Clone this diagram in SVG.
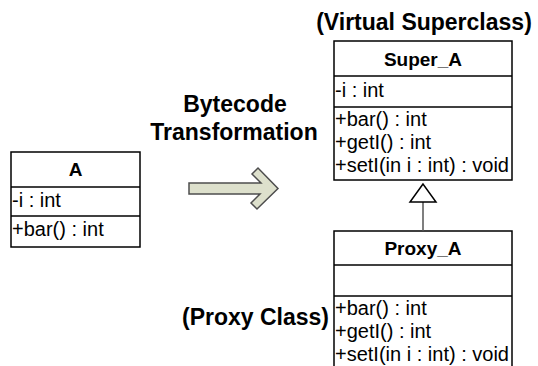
<svg xmlns="http://www.w3.org/2000/svg" width="538" height="366" viewBox="0 0 538 366">
  <style>
    .box { fill: #ffffff; stroke: #000000; stroke-width: 1.5; }
    .sep { stroke: #000000; stroke-width: 1.5; }
    .title { font-family: "Liberation Sans", Arial, sans-serif; font-weight: bold; font-size: 19px; fill: #000; text-anchor: middle; }
    .member { font-family: "Liberation Sans", Arial, sans-serif; font-size: 20px; fill: #000; }
    .label { font-family: "Liberation Sans", Arial, sans-serif; font-weight: bold; font-size: 23px; fill: #000; }
  </style>

  <!-- original class -->
  <g id="class-A">
    <rect class="box" x="11" y="152" width="129" height="95"/>
    <line class="sep" x1="11" y1="187" x2="140" y2="187"/>
    <line class="sep" x1="11" y1="216" x2="140" y2="216"/>
    <text class="title" x="75.5" y="176">A</text>
    <text class="member" x="12" y="207">-i : int</text>
    <text class="member" x="12" y="236">+bar() : int</text>
  </g>

  <!-- transformation arrow -->
  <g id="transform">
    <text class="label" x="235" y="112" text-anchor="middle">Bytecode</text>
    <text class="label" x="234" y="140" text-anchor="middle">Transformation</text>
    <polygon points="189,183 261,183 252,174 258,168 278,188.5 257,209 251,203 260,194 189,194"
             fill="#dde0cc" stroke="#4d4d4d" stroke-width="1.5" stroke-linejoin="miter"/>
  </g>

  <!-- virtual superclass -->
  <g id="class-Super_A">
    <text class="label" x="424" y="30" text-anchor="middle">(Virtual Superclass)</text>
    <rect class="box" x="334" y="41" width="178" height="139"/>
    <line class="sep" x1="334" y1="76" x2="512" y2="76"/>
    <line class="sep" x1="334" y1="107" x2="512" y2="107"/>
    <text class="title" x="423" y="66">Super_A</text>
    <text class="member" x="335" y="97">-i : int</text>
    <text class="member" x="335" y="126">+bar() : int</text>
    <text class="member" x="335" y="149">+getI() : int</text>
    <text class="member" x="335" y="172">+setI(in i : int) : void</text>
  </g>

  <!-- proxy class -->
  <g id="class-Proxy_A">
    <rect class="box" x="334" y="231" width="178" height="145"/>
    <line class="sep" x1="334" y1="265" x2="512" y2="265"/>
    <line class="sep" x1="334" y1="296" x2="512" y2="296"/>
    <text class="title" x="423" y="255">Proxy_A</text>
    <text class="member" x="335" y="315">+bar() : int</text>
    <text class="member" x="335" y="338">+getI() : int</text>
    <text class="member" x="335" y="361">+setI(in i : int) : void</text>
    <text class="label" x="329" y="325" text-anchor="end">(Proxy Class)</text>
  </g>

  <!-- generalization -->
  <g id="connectors">
    <line x1="423" y1="202" x2="423" y2="231" stroke="#555555" stroke-width="1.5"/>
    <polygon points="423,184 410,202 436,202" fill="#ffffff" stroke="#000000" stroke-width="1.5"/>
  </g>
</svg>
